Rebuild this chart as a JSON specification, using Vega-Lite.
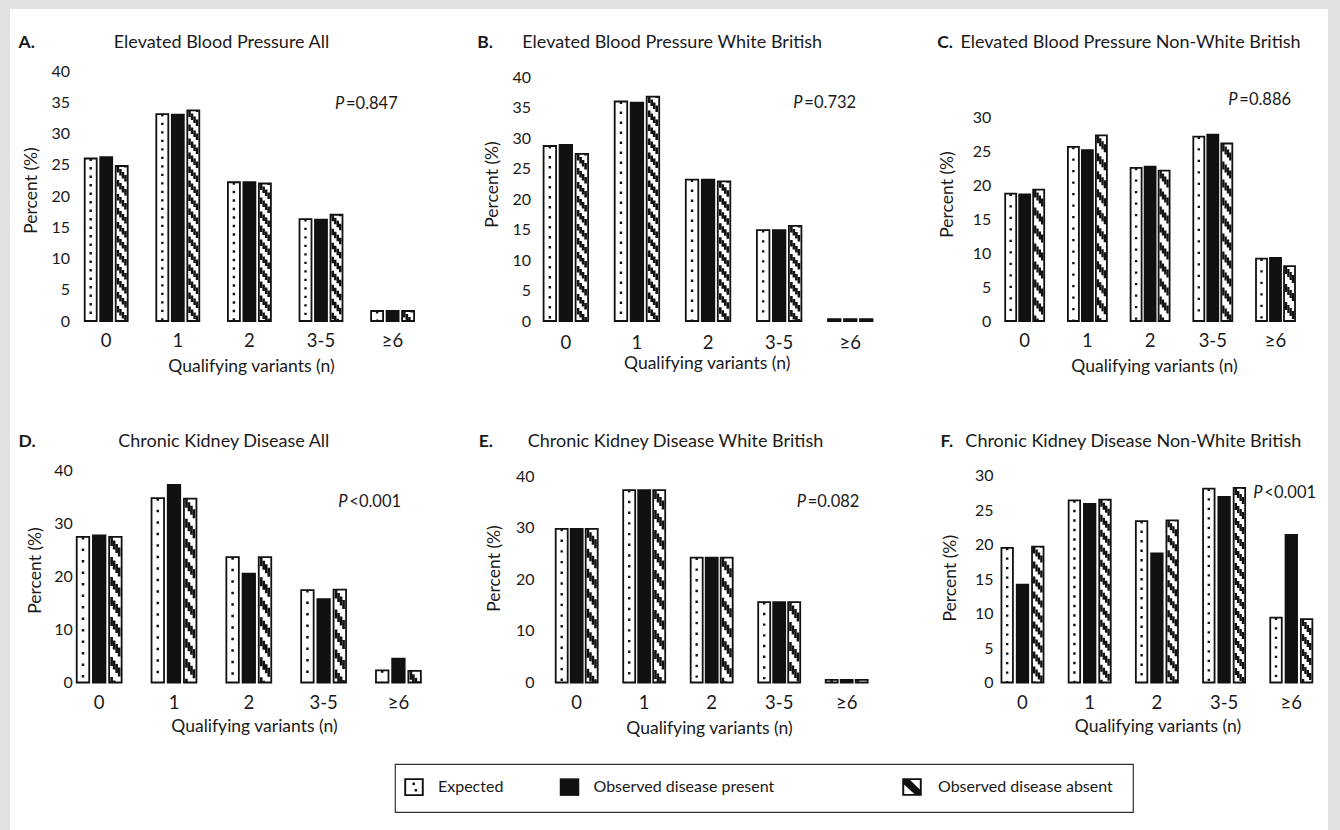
{
  "$schema": "https://vega.github.io/schema/vega-lite/v6.json",
  "padding": 0,
  "background": "#ffffff",
  "spacing": 0,
  "config": {
    "view": {"stroke": null},
    "font": "Lato",
    "axis": {"labelColor": "#1a1a1a", "titleColor": "#1a1a1a", "labelFont": "Lato", "titleFont": "Lato", "titleFontWeight": "normal", "grid": false, "domain": false, "ticks": false, "tickSize": 0},
    "text": {"color": "#1a1a1a", "font": "Lato"}
  },
  "datasets": {
    "bpAll": [
      {"cat": "0", "series": "Expected", "value": 26.0}, {"cat": "0", "series": "Present", "value": 26.2}, {"cat": "0", "series": "Absent", "value": 24.8},
      {"cat": "1", "series": "Expected", "value": 33.1}, {"cat": "1", "series": "Present", "value": 33.0}, {"cat": "1", "series": "Absent", "value": 33.7},
      {"cat": "2", "series": "Expected", "value": 22.2}, {"cat": "2", "series": "Present", "value": 22.2}, {"cat": "2", "series": "Absent", "value": 22.0},
      {"cat": "3-5", "series": "Expected", "value": 16.3}, {"cat": "3-5", "series": "Present", "value": 16.2}, {"cat": "3-5", "series": "Absent", "value": 17.0},
      {"cat": "≥6", "series": "Expected", "value": 1.6}, {"cat": "≥6", "series": "Present", "value": 1.6}, {"cat": "≥6", "series": "Absent", "value": 1.6}
    ],
    "bpWB": [
      {"cat": "0", "series": "Expected", "value": 28.7}, {"cat": "0", "series": "Present", "value": 28.9}, {"cat": "0", "series": "Absent", "value": 27.4},
      {"cat": "1", "series": "Expected", "value": 36.0}, {"cat": "1", "series": "Present", "value": 35.8}, {"cat": "1", "series": "Absent", "value": 36.8},
      {"cat": "2", "series": "Expected", "value": 23.2}, {"cat": "2", "series": "Present", "value": 23.2}, {"cat": "2", "series": "Absent", "value": 22.9},
      {"cat": "3-5", "series": "Expected", "value": 14.9}, {"cat": "3-5", "series": "Present", "value": 14.9}, {"cat": "3-5", "series": "Absent", "value": 15.6},
      {"cat": "≥6", "series": "Expected", "value": 0.3}, {"cat": "≥6", "series": "Present", "value": 0.3}, {"cat": "≥6", "series": "Absent", "value": 0.3}
    ],
    "bpNWB": [
      {"cat": "0", "series": "Expected", "value": 18.8}, {"cat": "0", "series": "Present", "value": 18.7}, {"cat": "0", "series": "Absent", "value": 19.4},
      {"cat": "1", "series": "Expected", "value": 25.7}, {"cat": "1", "series": "Present", "value": 25.2}, {"cat": "1", "series": "Absent", "value": 27.4},
      {"cat": "2", "series": "Expected", "value": 22.6}, {"cat": "2", "series": "Present", "value": 22.8}, {"cat": "2", "series": "Absent", "value": 22.2},
      {"cat": "3-5", "series": "Expected", "value": 27.2}, {"cat": "3-5", "series": "Present", "value": 27.5}, {"cat": "3-5", "series": "Absent", "value": 26.2},
      {"cat": "≥6", "series": "Expected", "value": 9.2}, {"cat": "≥6", "series": "Present", "value": 9.3}, {"cat": "≥6", "series": "Absent", "value": 8.1}
    ],
    "ckdAll": [
      {"cat": "0", "series": "Expected", "value": 27.4}, {"cat": "0", "series": "Present", "value": 27.7}, {"cat": "0", "series": "Absent", "value": 27.4},
      {"cat": "1", "series": "Expected", "value": 34.7}, {"cat": "1", "series": "Present", "value": 37.2}, {"cat": "1", "series": "Absent", "value": 34.6},
      {"cat": "2", "series": "Expected", "value": 23.6}, {"cat": "2", "series": "Present", "value": 20.5}, {"cat": "2", "series": "Absent", "value": 23.6},
      {"cat": "3-5", "series": "Expected", "value": 17.4}, {"cat": "3-5", "series": "Present", "value": 15.7}, {"cat": "3-5", "series": "Absent", "value": 17.5},
      {"cat": "≥6", "series": "Expected", "value": 2.3}, {"cat": "≥6", "series": "Present", "value": 4.5}, {"cat": "≥6", "series": "Absent", "value": 2.2}
    ],
    "ckdWB": [
      {"cat": "0", "series": "Expected", "value": 29.8}, {"cat": "0", "series": "Present", "value": 29.8}, {"cat": "0", "series": "Absent", "value": 29.8},
      {"cat": "1", "series": "Expected", "value": 37.3}, {"cat": "1", "series": "Present", "value": 37.3}, {"cat": "1", "series": "Absent", "value": 37.3},
      {"cat": "2", "series": "Expected", "value": 24.2}, {"cat": "2", "series": "Present", "value": 24.2}, {"cat": "2", "series": "Absent", "value": 24.2},
      {"cat": "3-5", "series": "Expected", "value": 15.6}, {"cat": "3-5", "series": "Present", "value": 15.6}, {"cat": "3-5", "series": "Absent", "value": 15.6},
      {"cat": "≥6", "series": "Expected", "value": 0.5}, {"cat": "≥6", "series": "Present", "value": 0.5}, {"cat": "≥6", "series": "Absent", "value": 0.5}
    ],
    "ckdNWB": [
      {"cat": "0", "series": "Expected", "value": 19.5}, {"cat": "0", "series": "Present", "value": 14.2}, {"cat": "0", "series": "Absent", "value": 19.7},
      {"cat": "1", "series": "Expected", "value": 26.4}, {"cat": "1", "series": "Present", "value": 25.9}, {"cat": "1", "series": "Absent", "value": 26.5},
      {"cat": "2", "series": "Expected", "value": 23.4}, {"cat": "2", "series": "Present", "value": 18.7}, {"cat": "2", "series": "Absent", "value": 23.5},
      {"cat": "3-5", "series": "Expected", "value": 28.1}, {"cat": "3-5", "series": "Present", "value": 26.9}, {"cat": "3-5", "series": "Absent", "value": 28.2},
      {"cat": "≥6", "series": "Expected", "value": 9.4}, {"cat": "≥6", "series": "Present", "value": 21.4}, {"cat": "≥6", "series": "Absent", "value": 9.2}
    ]
  },
  "vconcat": [
    {"width": 1340, "height": 9, "view": {"fill": "#e1e2e4", "stroke": null}, "data": {"values": []}, "mark": "rect", "encoding": {}},
    {
      "spacing": 8,
      "hconcat": [
        {"width": 10, "height": 821, "view": {"fill": "#e1e2e4", "stroke": null}, "data": {"values": []}, "mark": "rect", "encoding": {}},
        {
          "spacing": 23,
          "vconcat": [
            {"width": 1250, "height": 1, "data": {"values": []}, "mark": "rect", "encoding": {}},
            {
              "spacing": 26,
              "vconcat": [
                {
                  "spacing": 57,
                  "vconcat": [
                    {
                      "spacing": 57.6,
                      "hconcat": [
                        {
                          "spacing": 47.4,
                          "hconcat": [
                            {
                              "width": 358.8, "height": 250,
                              "data": {"name": "bpAll"},
                              "resolve": {"axis": {"x": "independent"}},
                              "layer": [
                                {"transform": [{"filter": "datum.series === 'Expected'"}],
                                 "mark": {"type": "bar", "width": 12, "xOffset": -15.5, "fill": "#ffffff", "stroke": "#111111", "strokeWidth": 1.8},
                                 "encoding": {
                                   "x": {"field": "cat", "type": "nominal", "scale": {"type": "band", "domain": ["0", "1", "2", "3-5", "≥6"], "paddingInner": 0.2, "paddingOuter": 0.1056},
                                         "axis": {"orient": "bottom", "labelAngle": 0, "labelFontSize": 18.5, "labelPadding": 19, "labelBaseline": "middle", "title": "Qualifying variants (n)", "titleFontSize": 17.5, "titleX": 181, "titleY": 45, "titleAlign": "center", "titleBaseline": "middle"}},
                                   "y": {"field": "value", "type": "quantitative", "scale": {"domain": [0, 40], "nice": false},
                                         "axis": {"values": [0, 5, 10, 15, 20, 25, 30, 35, 40], "tickCount": 20, "labelFontSize": 16, "labelPadding": 0.5, "title": "Percent (%)", "titleFontSize": 17.5, "titleAngle": 270, "titleX": -38.3, "titleY": 119, "titleAlign": "center", "titleBaseline": "middle"}}
                                 }},
                                {"transform": [{"filter": "datum.series === 'Present'"}],
                                 "mark": {"type": "bar", "width": 12, "fill": "#111111", "stroke": "#111111", "strokeWidth": 1.8},
                                 "encoding": {"x": {"field": "cat", "type": "nominal", "axis": null}, "y": {"field": "value", "type": "quantitative"}}},
                                {"transform": [{"filter": "datum.series === 'Absent'"}],
                                 "mark": {"type": "bar", "width": 12, "xOffset": 15.5, "fill": "#ffffff", "stroke": "#111111", "strokeWidth": 1.8},
                                 "encoding": {"x": {"field": "cat", "type": "nominal", "axis": null}, "y": {"field": "value", "type": "quantitative"}}},
                                {"transform": [{"filter": "datum.series === 'Expected'"}],
                                 "mark": {"type": "rule", "xOffset": -15.5, "stroke": "#111111", "strokeWidth": 2.4, "strokeDash": [2.4, 6.1]},
                                 "encoding": {"x": {"field": "cat", "type": "nominal", "axis": {"orient": "top", "labels": false, "ticks": false, "domain": false, "title": "A.", "titleFontSize": 17.5, "titleFontWeight": "bold", "titleX": -52, "titleY": -28.5, "titleAlign": "left", "titleBaseline": "middle"}},
                                              "y": {"field": "value", "type": "quantitative"}, "y2": {"datum": 0}}},
                                {"transform": [{"filter": "datum.series === 'Absent'"}],
                                 "mark": {"type": "rule", "xOffset": 11.75, "stroke": "#111111", "strokeWidth": 2.5, "strokeDash": [6.5, 7.5], "strokeDashOffset": 0},
                                 "encoding": {"x": {"field": "cat", "type": "nominal", "axis": {"orient": "top", "labels": false, "ticks": false, "domain": false, "title": "Elevated Blood Pressure All", "titleFontSize": 18, "titleX": 151, "titleY": -28.5, "titleAlign": "center", "titleBaseline": "middle"}},
                                              "y": {"field": "value", "type": "quantitative"}, "y2": {"datum": 0}}},
                                {"transform": [{"filter": "datum.series === 'Absent'"}],
                                 "mark": {"type": "rule", "xOffset": 14.25, "stroke": "#111111", "strokeWidth": 2.5, "strokeDash": [6.5, 7.5], "strokeDashOffset": 11},
                                 "encoding": {"x": {"field": "cat", "type": "nominal", "axis": null}, "y": {"field": "value", "type": "quantitative"}, "y2": {"datum": 0}}},
                                {"transform": [{"filter": "datum.series === 'Absent'"}],
                                 "mark": {"type": "rule", "xOffset": 16.75, "stroke": "#111111", "strokeWidth": 2.5, "strokeDash": [6.5, 7.5], "strokeDashOffset": 8},
                                 "encoding": {"x": {"field": "cat", "type": "nominal", "axis": null}, "y": {"field": "value", "type": "quantitative"}, "y2": {"datum": 0}}},
                                {"transform": [{"filter": "datum.series === 'Absent'"}],
                                 "mark": {"type": "rule", "xOffset": 19.25, "stroke": "#111111", "strokeWidth": 2.5, "strokeDash": [6.5, 7.5], "strokeDashOffset": 5},
                                 "encoding": {"x": {"field": "cat", "type": "nominal", "axis": null}, "y": {"field": "value", "type": "quantitative"}, "y2": {"datum": 0}}},
                                {"data": {"values": [{"t": "P"}]},
                                 "mark": {"type": "text", "fontSize": 16.5, "fontStyle": "italic", "align": "left", "baseline": "middle", "dx": -57.6},
                                 "encoding": {"x": {"datum": "≥6", "type": "nominal", "axis": null}, "y": {"datum": 34.8, "type": "quantitative"}, "text": {"field": "t"}}},
                                {"data": {"values": [{"t": "=0.847"}]},
                                 "mark": {"type": "text", "fontSize": 16.5, "align": "left", "baseline": "middle", "dx": -46.6},
                                 "encoding": {"x": {"datum": "≥6", "type": "nominal", "axis": null}, "y": {"datum": 34.8, "type": "quantitative"}, "text": {"field": "t"}}}
                              ]
                            },
                            {
                              "width": 341.3, "height": 250,
                              "data": {"name": "bpWB"},
                              "resolve": {"axis": {"x": "independent"}},
                              "layer": [
                                {"transform": [{"filter": "datum.series === 'Expected'"}],
                                 "mark": {"type": "bar", "width": 12.5, "xOffset": -16, "fill": "#ffffff", "stroke": "#111111", "strokeWidth": 1.8},
                                 "encoding": {
                                   "x": {"field": "cat", "type": "nominal", "scale": {"type": "band", "domain": ["0", "1", "2", "3-5", "≥6"], "paddingInner": 0.2, "paddingOuter": 0},
                                         "axis": {"orient": "bottom", "labelAngle": 0, "labelFontSize": 18.5, "labelPadding": 21, "labelBaseline": "middle", "title": "Qualifying variants (n)", "titleFontSize": 17.5, "titleX": 169.3, "titleY": 42.5, "titleAlign": "center", "titleBaseline": "middle"}},
                                   "y": {"field": "value", "type": "quantitative", "scale": {"domain": [0, 41], "nice": false},
                                         "axis": {"values": [0, 5, 10, 15, 20, 25, 30, 35, 40], "tickCount": 20, "labelFontSize": 16, "labelPadding": 6.9, "title": "Percent (%)", "titleFontSize": 17.5, "titleAngle": 270, "titleX": -45.4, "titleY": 113, "titleAlign": "center", "titleBaseline": "middle"}}
                                 }},
                                {"transform": [{"filter": "datum.series === 'Present'"}],
                                 "mark": {"type": "bar", "width": 12.5, "fill": "#111111", "stroke": "#111111", "strokeWidth": 1.8},
                                 "encoding": {"x": {"field": "cat", "type": "nominal", "axis": null}, "y": {"field": "value", "type": "quantitative"}}},
                                {"transform": [{"filter": "datum.series === 'Absent'"}],
                                 "mark": {"type": "bar", "width": 12.5, "xOffset": 16, "fill": "#ffffff", "stroke": "#111111", "strokeWidth": 1.8},
                                 "encoding": {"x": {"field": "cat", "type": "nominal", "axis": null}, "y": {"field": "value", "type": "quantitative"}}},
                                {"transform": [{"filter": "datum.series === 'Expected'"}],
                                 "mark": {"type": "rule", "xOffset": -16, "stroke": "#111111", "strokeWidth": 2.4, "strokeDash": [2.4, 7.6]},
                                 "encoding": {"x": {"field": "cat", "type": "nominal", "axis": {"orient": "top", "labels": false, "ticks": false, "domain": false, "title": "B.", "titleFontSize": 17.5, "titleFontWeight": "bold", "titleX": -60.7, "titleY": -28.5, "titleAlign": "left", "titleBaseline": "middle"}},
                                              "y": {"field": "value", "type": "quantitative"}, "y2": {"datum": 0}}},
                                {"transform": [{"filter": "datum.series === 'Absent'"}],
                                 "mark": {"type": "rule", "xOffset": 12.25, "stroke": "#111111", "strokeWidth": 2.6, "strokeDash": [6.5, 7.5], "strokeDashOffset": 0},
                                 "encoding": {"x": {"field": "cat", "type": "nominal", "axis": {"orient": "top", "labels": false, "ticks": false, "domain": false, "title": "Elevated Blood Pressure White British", "titleFontSize": 18, "titleX": 134.3, "titleY": -28.5, "titleAlign": "center", "titleBaseline": "middle"}},
                                              "y": {"field": "value", "type": "quantitative"}, "y2": {"datum": 0}}},
                                {"transform": [{"filter": "datum.series === 'Absent'"}],
                                 "mark": {"type": "rule", "xOffset": 14.75, "stroke": "#111111", "strokeWidth": 2.6, "strokeDash": [6.5, 7.5], "strokeDashOffset": 11},
                                 "encoding": {"x": {"field": "cat", "type": "nominal", "axis": null}, "y": {"field": "value", "type": "quantitative"}, "y2": {"datum": 0}}},
                                {"transform": [{"filter": "datum.series === 'Absent'"}],
                                 "mark": {"type": "rule", "xOffset": 17.25, "stroke": "#111111", "strokeWidth": 2.6, "strokeDash": [6.5, 7.5], "strokeDashOffset": 8},
                                 "encoding": {"x": {"field": "cat", "type": "nominal", "axis": null}, "y": {"field": "value", "type": "quantitative"}, "y2": {"datum": 0}}},
                                {"transform": [{"filter": "datum.series === 'Absent'"}],
                                 "mark": {"type": "rule", "xOffset": 19.75, "stroke": "#111111", "strokeWidth": 2.6, "strokeDash": [6.5, 7.5], "strokeDashOffset": 5},
                                 "encoding": {"x": {"field": "cat", "type": "nominal", "axis": null}, "y": {"field": "value", "type": "quantitative"}, "y2": {"datum": 0}}},
                                {"data": {"values": [{"t": "P"}]},
                                 "mark": {"type": "text", "fontSize": 16.5, "fontStyle": "italic", "align": "left", "baseline": "middle", "dx": -56.9},
                                 "encoding": {"x": {"datum": "≥6", "type": "nominal", "axis": null}, "y": {"datum": 35.7, "type": "quantitative"}, "text": {"field": "t"}}},
                                {"data": {"values": [{"t": "=0.732"}]},
                                 "mark": {"type": "text", "fontSize": 16.5, "align": "left", "baseline": "middle", "dx": -45.9},
                                 "encoding": {"x": {"datum": "≥6", "type": "nominal", "axis": null}, "y": {"datum": 35.7, "type": "quantitative"}, "text": {"field": "t"}}}
                              ]
                            }
                          ]
                        },
                        {
                          "width": 301, "height": 250,
                          "data": {"name": "bpNWB"},
                          "resolve": {"axis": {"x": "independent"}},
                          "layer": [
                            {"transform": [{"filter": "datum.series === 'Expected'"}],
                             "mark": {"type": "bar", "width": 11, "xOffset": -14, "fill": "#ffffff", "stroke": "#111111", "strokeWidth": 1.8},
                             "encoding": {
                               "x": {"field": "cat", "type": "nominal", "scale": {"type": "band", "domain": ["0", "1", "2", "3-5", "≥6"], "paddingInner": 0.2, "paddingOuter": 0},
                                     "axis": {"orient": "bottom", "labelAngle": 0, "labelFontSize": 18.5, "labelPadding": 19, "labelBaseline": "middle", "title": "Qualifying variants (n)", "titleFontSize": 17.5, "titleX": 154.4, "titleY": 45, "titleAlign": "center", "titleBaseline": "middle"}},
                               "y": {"field": "value", "type": "quantitative", "scale": {"domain": [0, 36.9], "nice": false},
                                     "axis": {"values": [0, 5, 10, 15, 20, 25, 30], "tickCount": 20, "labelFontSize": 16, "labelPadding": 8.9, "title": "Percent (%)", "titleFontSize": 17.5, "titleAngle": 270, "titleX": -51.8, "titleY": 123, "titleAlign": "center", "titleBaseline": "middle"}}
                             }},
                            {"transform": [{"filter": "datum.series === 'Present'"}],
                             "mark": {"type": "bar", "width": 11, "fill": "#111111", "stroke": "#111111", "strokeWidth": 1.8},
                             "encoding": {"x": {"field": "cat", "type": "nominal", "axis": null}, "y": {"field": "value", "type": "quantitative"}}},
                            {"transform": [{"filter": "datum.series === 'Absent'"}],
                             "mark": {"type": "bar", "width": 11, "xOffset": 14, "fill": "#ffffff", "stroke": "#111111", "strokeWidth": 1.8},
                             "encoding": {"x": {"field": "cat", "type": "nominal", "axis": null}, "y": {"field": "value", "type": "quantitative"}}},
                            {"transform": [{"filter": "datum.series === 'Expected'"}],
                             "mark": {"type": "rule", "xOffset": -14, "stroke": "#111111", "strokeWidth": 2.4, "strokeDash": [2.4, 9.1]},
                             "encoding": {"x": {"field": "cat", "type": "nominal", "axis": {"orient": "top", "labels": false, "ticks": false, "domain": false, "title": "C.", "titleFontSize": 17.5, "titleFontWeight": "bold", "titleX": -62.9, "titleY": -28.5, "titleAlign": "left", "titleBaseline": "middle"}},
                                          "y": {"field": "value", "type": "quantitative"}, "y2": {"datum": 0}}},
                            {"transform": [{"filter": "datum.series === 'Absent'"}],
                             "mark": {"type": "rule", "xOffset": 10.55, "stroke": "#111111", "strokeWidth": 2.3, "strokeDash": [8, 10], "strokeDashOffset": 0},
                             "encoding": {"x": {"field": "cat", "type": "nominal", "axis": {"orient": "top", "labels": false, "ticks": false, "domain": false, "title": "Elevated Blood Pressure Non-White British", "titleFontSize": 18, "titleX": 130.4, "titleY": -28.5, "titleAlign": "center", "titleBaseline": "middle"}},
                                          "y": {"field": "value", "type": "quantitative"}, "y2": {"datum": 0}}},
                            {"transform": [{"filter": "datum.series === 'Absent'"}],
                             "mark": {"type": "rule", "xOffset": 12.85, "stroke": "#111111", "strokeWidth": 2.3, "strokeDash": [8, 10], "strokeDashOffset": 15},
                             "encoding": {"x": {"field": "cat", "type": "nominal", "axis": null}, "y": {"field": "value", "type": "quantitative"}, "y2": {"datum": 0}}},
                            {"transform": [{"filter": "datum.series === 'Absent'"}],
                             "mark": {"type": "rule", "xOffset": 15.15, "stroke": "#111111", "strokeWidth": 2.3, "strokeDash": [8, 10], "strokeDashOffset": 12},
                             "encoding": {"x": {"field": "cat", "type": "nominal", "axis": null}, "y": {"field": "value", "type": "quantitative"}, "y2": {"datum": 0}}},
                            {"transform": [{"filter": "datum.series === 'Absent'"}],
                             "mark": {"type": "rule", "xOffset": 17.45, "stroke": "#111111", "strokeWidth": 2.3, "strokeDash": [8, 10], "strokeDashOffset": 9},
                             "encoding": {"x": {"field": "cat", "type": "nominal", "axis": null}, "y": {"field": "value", "type": "quantitative"}, "y2": {"datum": 0}}},
                            {"data": {"values": [{"t": "P"}]},
                             "mark": {"type": "text", "fontSize": 16.5, "fontStyle": "italic", "align": "left", "baseline": "middle", "dx": -47.2},
                             "encoding": {"x": {"datum": "≥6", "type": "nominal", "axis": null}, "y": {"datum": 32.6, "type": "quantitative"}, "text": {"field": "t"}}},
                            {"data": {"values": [{"t": "=0.886"}]},
                             "mark": {"type": "text", "fontSize": 16.5, "align": "left", "baseline": "middle", "dx": -36.2},
                             "encoding": {"x": {"datum": "≥6", "type": "nominal", "axis": null}, "y": {"datum": 32.6, "type": "quantitative"}, "text": {"field": "t"}}}
                          ]
                        }
                      ]
                    },
                    {
                      "spacing": 65.6,
                      "hconcat": [
                        {
                          "spacing": 49.7,
                          "hconcat": [
                            {
                              "width": 357.6, "height": 212.5,
                              "data": {"name": "ckdAll"},
                              "resolve": {"axis": {"x": "independent"}},
                              "layer": [
                                {"transform": [{"filter": "datum.series === 'Expected'"}],
                                 "mark": {"type": "bar", "width": 12.5, "xOffset": -16.2, "fill": "#ffffff", "stroke": "#111111", "strokeWidth": 1.8},
                                 "encoding": {
                                   "x": {"field": "cat", "type": "nominal", "scale": {"type": "band", "domain": ["0", "1", "2", "3-5", "≥6"], "paddingInner": 0.22, "paddingOuter": 0},
                                         "axis": {"orient": "bottom", "labelAngle": 0, "labelFontSize": 18.5, "labelPadding": 20.2, "labelBaseline": "middle", "title": "Qualifying variants (n)", "titleFontSize": 17.5, "titleX": 184, "titleY": 44.3, "titleAlign": "center", "titleBaseline": "middle"}},
                                   "y": {"field": "value", "type": "quantitative", "scale": {"domain": [0, 40], "nice": false},
                                         "axis": {"values": [0, 10, 20, 30, 40], "tickCount": 20, "labelFontSize": 16, "labelPadding": -2.3, "title": "Percent (%)", "titleFontSize": 17.5, "titleAngle": 270, "titleX": -34.7, "titleY": 100, "titleAlign": "center", "titleBaseline": "middle"}}
                                 }},
                                {"transform": [{"filter": "datum.series === 'Present'"}],
                                 "mark": {"type": "bar", "width": 12.5, "fill": "#111111", "stroke": "#111111", "strokeWidth": 1.8},
                                 "encoding": {"x": {"field": "cat", "type": "nominal", "axis": null}, "y": {"field": "value", "type": "quantitative"}}},
                                {"transform": [{"filter": "datum.series === 'Absent'"}],
                                 "mark": {"type": "bar", "width": 12.5, "xOffset": 16.2, "fill": "#ffffff", "stroke": "#111111", "strokeWidth": 1.8},
                                 "encoding": {"x": {"field": "cat", "type": "nominal", "axis": null}, "y": {"field": "value", "type": "quantitative"}}},
                                {"transform": [{"filter": "datum.series === 'Expected'"}],
                                 "mark": {"type": "rule", "xOffset": -16.2, "stroke": "#111111", "strokeWidth": 2.5, "strokeDash": [2.5, 9]},
                                 "encoding": {"x": {"field": "cat", "type": "nominal", "axis": {"orient": "top", "labels": false, "ticks": false, "domain": false, "title": "D.", "titleFontSize": 17.5, "titleFontWeight": "bold", "titleX": -52, "titleY": -28.2, "titleAlign": "left", "titleBaseline": "middle"}},
                                              "y": {"field": "value", "type": "quantitative"}, "y2": {"datum": 0}}},
                                {"transform": [{"filter": "datum.series === 'Absent'"}],
                                 "mark": {"type": "rule", "xOffset": 12.45, "stroke": "#111111", "strokeWidth": 2.6, "strokeDash": [9, 11], "strokeDashOffset": 0},
                                 "encoding": {"x": {"field": "cat", "type": "nominal", "axis": {"orient": "top", "labels": false, "ticks": false, "domain": false, "title": "Chronic Kidney Disease All", "titleFontSize": 18, "titleX": 153.3, "titleY": -28.2, "titleAlign": "center", "titleBaseline": "middle"}},
                                              "y": {"field": "value", "type": "quantitative"}, "y2": {"datum": 0}}},
                                {"transform": [{"filter": "datum.series === 'Absent'"}],
                                 "mark": {"type": "rule", "xOffset": 14.95, "stroke": "#111111", "strokeWidth": 2.6, "strokeDash": [9, 11], "strokeDashOffset": 16.5},
                                 "encoding": {"x": {"field": "cat", "type": "nominal", "axis": null}, "y": {"field": "value", "type": "quantitative"}, "y2": {"datum": 0}}},
                                {"transform": [{"filter": "datum.series === 'Absent'"}],
                                 "mark": {"type": "rule", "xOffset": 17.45, "stroke": "#111111", "strokeWidth": 2.6, "strokeDash": [9, 11], "strokeDashOffset": 13},
                                 "encoding": {"x": {"field": "cat", "type": "nominal", "axis": null}, "y": {"field": "value", "type": "quantitative"}, "y2": {"datum": 0}}},
                                {"transform": [{"filter": "datum.series === 'Absent'"}],
                                 "mark": {"type": "rule", "xOffset": 19.95, "stroke": "#111111", "strokeWidth": 2.6, "strokeDash": [9, 11], "strokeDashOffset": 9.5},
                                 "encoding": {"x": {"field": "cat", "type": "nominal", "axis": null}, "y": {"field": "value", "type": "quantitative"}, "y2": {"datum": 0}}},
                                {"data": {"values": [{"t": "P"}]},
                                 "mark": {"type": "text", "fontSize": 16.5, "fontStyle": "italic", "align": "left", "baseline": "middle", "dx": -60.1},
                                 "encoding": {"x": {"datum": "≥6", "type": "nominal", "axis": null}, "y": {"datum": 33.9, "type": "quantitative"}, "text": {"field": "t"}}},
                                {"data": {"values": [{"t": "<0.001"}]},
                                 "mark": {"type": "text", "fontSize": 16.5, "align": "left", "baseline": "middle", "dx": -49.1},
                                 "encoding": {"x": {"datum": "≥6", "type": "nominal", "axis": null}, "y": {"datum": 33.9, "type": "quantitative"}, "text": {"field": "t"}}}
                              ]
                            },
                            {
                              "width": 324, "height": 212.5,
                              "data": {"name": "ckdWB"},
                              "resolve": {"axis": {"x": "independent"}},
                              "layer": [
                                {"transform": [{"filter": "datum.series === 'Expected'"}],
                                 "mark": {"type": "bar", "width": 12, "xOffset": -15, "fill": "#ffffff", "stroke": "#111111", "strokeWidth": 1.8},
                                 "encoding": {
                                   "x": {"field": "cat", "type": "nominal", "scale": {"type": "band", "domain": ["0", "1", "2", "3-5", "≥6"], "paddingInner": 0.2, "paddingOuter": 0},
                                         "axis": {"orient": "bottom", "labelAngle": 0, "labelFontSize": 18.5, "labelPadding": 20.2, "labelBaseline": "middle", "title": "Qualifying variants (n)", "titleFontSize": 17.5, "titleX": 159.3, "titleY": 45.5, "titleAlign": "center", "titleBaseline": "middle"}},
                                   "y": {"field": "value", "type": "quantitative", "scale": {"domain": [0, 41.2], "nice": false},
                                         "axis": {"values": [0, 10, 20, 30, 40], "tickCount": 20, "labelFontSize": 16, "labelPadding": 15.7, "title": "Percent (%)", "titleFontSize": 17.5, "titleAngle": 270, "titleX": -55, "titleY": 98, "titleAlign": "center", "titleBaseline": "middle"}}
                                 }},
                                {"transform": [{"filter": "datum.series === 'Present'"}],
                                 "mark": {"type": "bar", "width": 12, "fill": "#111111", "stroke": "#111111", "strokeWidth": 1.8},
                                 "encoding": {"x": {"field": "cat", "type": "nominal", "axis": null}, "y": {"field": "value", "type": "quantitative"}}},
                                {"transform": [{"filter": "datum.series === 'Absent'"}],
                                 "mark": {"type": "bar", "width": 12, "xOffset": 15, "fill": "#ffffff", "stroke": "#111111", "strokeWidth": 1.8},
                                 "encoding": {"x": {"field": "cat", "type": "nominal", "axis": null}, "y": {"field": "value", "type": "quantitative"}}},
                                {"transform": [{"filter": "datum.series === 'Expected'"}],
                                 "mark": {"type": "rule", "xOffset": -15, "stroke": "#111111", "strokeWidth": 2.4, "strokeDash": [2.4, 8.3]},
                                 "encoding": {"x": {"field": "cat", "type": "nominal", "axis": {"orient": "top", "labels": false, "ticks": false, "domain": false, "title": "E.", "titleFontSize": 17.5, "titleFontWeight": "bold", "titleX": -71.4, "titleY": -28.2, "titleAlign": "left", "titleBaseline": "middle"}},
                                              "y": {"field": "value", "type": "quantitative"}, "y2": {"datum": 0}}},
                                {"transform": [{"filter": "datum.series === 'Absent'"}],
                                 "mark": {"type": "rule", "xOffset": 11.25, "stroke": "#111111", "strokeWidth": 2.5, "strokeDash": [9, 11], "strokeDashOffset": 0},
                                 "encoding": {"x": {"field": "cat", "type": "nominal", "axis": {"orient": "top", "labels": false, "ticks": false, "domain": false, "title": "Chronic Kidney Disease White British", "titleFontSize": 18, "titleX": 125.3, "titleY": -28.2, "titleAlign": "center", "titleBaseline": "middle"}},
                                              "y": {"field": "value", "type": "quantitative"}, "y2": {"datum": 0}}},
                                {"transform": [{"filter": "datum.series === 'Absent'"}],
                                 "mark": {"type": "rule", "xOffset": 13.75, "stroke": "#111111", "strokeWidth": 2.5, "strokeDash": [9, 11], "strokeDashOffset": 16.5},
                                 "encoding": {"x": {"field": "cat", "type": "nominal", "axis": null}, "y": {"field": "value", "type": "quantitative"}, "y2": {"datum": 0}}},
                                {"transform": [{"filter": "datum.series === 'Absent'"}],
                                 "mark": {"type": "rule", "xOffset": 16.25, "stroke": "#111111", "strokeWidth": 2.5, "strokeDash": [9, 11], "strokeDashOffset": 13},
                                 "encoding": {"x": {"field": "cat", "type": "nominal", "axis": null}, "y": {"field": "value", "type": "quantitative"}, "y2": {"datum": 0}}},
                                {"transform": [{"filter": "datum.series === 'Absent'"}],
                                 "mark": {"type": "rule", "xOffset": 18.75, "stroke": "#111111", "strokeWidth": 2.5, "strokeDash": [9, 11], "strokeDashOffset": 9.5},
                                 "encoding": {"x": {"field": "cat", "type": "nominal", "axis": null}, "y": {"field": "value", "type": "quantitative"}, "y2": {"datum": 0}}},
                                {"data": {"values": [{"t": "P"}]},
                                 "mark": {"type": "text", "fontSize": 16.5, "fontStyle": "italic", "align": "left", "baseline": "middle", "dx": -50},
                                 "encoding": {"x": {"datum": "≥6", "type": "nominal", "axis": null}, "y": {"datum": 34.9, "type": "quantitative"}, "text": {"field": "t"}}},
                                {"data": {"values": [{"t": "=0.082"}]},
                                 "mark": {"type": "text", "fontSize": 16.5, "align": "left", "baseline": "middle", "dx": -39},
                                 "encoding": {"x": {"datum": "≥6", "type": "nominal", "axis": null}, "y": {"datum": 34.9, "type": "quantitative"}, "text": {"field": "t"}}}
                              ]
                            }
                          ]
                        },
                        {
                          "width": 322.6, "height": 212.5,
                          "data": {"name": "ckdNWB"},
                          "resolve": {"axis": {"x": "independent"}},
                          "layer": [
                            {"transform": [{"filter": "datum.series === 'Expected'"}],
                             "mark": {"type": "bar", "width": 11.5, "xOffset": -15.3, "fill": "#ffffff", "stroke": "#111111", "strokeWidth": 1.8},
                             "encoding": {
                               "x": {"field": "cat", "type": "nominal", "scale": {"type": "band", "domain": ["0", "1", "2", "3-5", "≥6"], "paddingInner": 0.2, "paddingOuter": 0},
                                     "axis": {"orient": "bottom", "labelAngle": 0, "labelFontSize": 18.5, "labelPadding": 20.2, "labelBaseline": "middle", "title": "Qualifying variants (n)", "titleFontSize": 17.5, "titleX": 161.9, "titleY": 44.3, "titleAlign": "center", "titleBaseline": "middle"}},
                               "y": {"field": "value", "type": "quantitative", "scale": {"domain": [0, 30.8], "nice": false},
                                     "axis": {"values": [0, 5, 10, 15, 20, 25, 30], "tickCount": 20, "labelFontSize": 16, "labelPadding": 2.6, "title": "Percent (%)", "titleFontSize": 17.5, "titleAngle": 270, "titleX": -44.8, "titleY": 107.7, "titleAlign": "center", "titleBaseline": "middle"}}
                             }},
                            {"transform": [{"filter": "datum.series === 'Present'"}],
                             "mark": {"type": "bar", "width": 11.5, "fill": "#111111", "stroke": "#111111", "strokeWidth": 1.8},
                             "encoding": {"x": {"field": "cat", "type": "nominal", "axis": null}, "y": {"field": "value", "type": "quantitative"}}},
                            {"transform": [{"filter": "datum.series === 'Absent'"}],
                             "mark": {"type": "bar", "width": 11.5, "xOffset": 15.3, "fill": "#ffffff", "stroke": "#111111", "strokeWidth": 1.8},
                             "encoding": {"x": {"field": "cat", "type": "nominal", "axis": null}, "y": {"field": "value", "type": "quantitative"}}},
                            {"transform": [{"filter": "datum.series === 'Expected'"}],
                             "mark": {"type": "rule", "xOffset": -15.3, "stroke": "#111111", "strokeWidth": 2.4, "strokeDash": [2.4, 7.1]},
                             "encoding": {"x": {"field": "cat", "type": "nominal", "axis": {"orient": "top", "labels": false, "ticks": false, "domain": false, "title": "F.", "titleFontSize": 17.5, "titleFontWeight": "bold", "titleX": -55.6, "titleY": -28.2, "titleAlign": "left", "titleBaseline": "middle"}},
                                          "y": {"field": "value", "type": "quantitative"}, "y2": {"datum": 0}}},
                            {"transform": [{"filter": "datum.series === 'Absent'"}],
                             "mark": {"type": "rule", "xOffset": 11.7, "stroke": "#111111", "strokeWidth": 2.4, "strokeDash": [7, 8], "strokeDashOffset": 0},
                             "encoding": {"x": {"field": "cat", "type": "nominal", "axis": {"orient": "top", "labels": false, "ticks": false, "domain": false, "title": "Chronic Kidney Disease Non-White British", "titleFontSize": 18, "titleX": 137.2, "titleY": -28.2, "titleAlign": "center", "titleBaseline": "middle"}},
                                          "y": {"field": "value", "type": "quantitative"}, "y2": {"datum": 0}}},
                            {"transform": [{"filter": "datum.series === 'Absent'"}],
                             "mark": {"type": "rule", "xOffset": 14.1, "stroke": "#111111", "strokeWidth": 2.4, "strokeDash": [7, 8], "strokeDashOffset": 12},
                             "encoding": {"x": {"field": "cat", "type": "nominal", "axis": null}, "y": {"field": "value", "type": "quantitative"}, "y2": {"datum": 0}}},
                            {"transform": [{"filter": "datum.series === 'Absent'"}],
                             "mark": {"type": "rule", "xOffset": 16.5, "stroke": "#111111", "strokeWidth": 2.4, "strokeDash": [7, 8], "strokeDashOffset": 9},
                             "encoding": {"x": {"field": "cat", "type": "nominal", "axis": null}, "y": {"field": "value", "type": "quantitative"}, "y2": {"datum": 0}}},
                            {"transform": [{"filter": "datum.series === 'Absent'"}],
                             "mark": {"type": "rule", "xOffset": 18.9, "stroke": "#111111", "strokeWidth": 2.4, "strokeDash": [7, 8], "strokeDashOffset": 6},
                             "encoding": {"x": {"field": "cat", "type": "nominal", "axis": null}, "y": {"field": "value", "type": "quantitative"}, "y2": {"datum": 0}}},
                            {"data": {"values": [{"t": "P"}]},
                             "mark": {"type": "text", "fontSize": 16.5, "fontStyle": "italic", "align": "left", "baseline": "middle", "dx": -38},
                             "encoding": {"x": {"datum": "≥6", "type": "nominal", "axis": null}, "y": {"datum": 27.5, "type": "quantitative"}, "text": {"field": "t"}}},
                            {"data": {"values": [{"t": "<0.001"}]},
                             "mark": {"type": "text", "fontSize": 16.5, "align": "left", "baseline": "middle", "dx": -27},
                             "encoding": {"x": {"datum": "≥6", "type": "nominal", "axis": null}, "y": {"datum": 27.5, "type": "quantitative"}, "text": {"field": "t"}}}
                          ]
                        }
                      ]
                    }
                  ]
                },
                {
                  "spacing": 0,
                  "hconcat": [
                    {"width": 324, "height": 1, "data": {"values": []}, "mark": "rect", "encoding": {}},
                    {
                      "width": 738, "height": 48,
                      "view": {"stroke": "#333333", "strokeWidth": 1.2, "fill": null},
                      "layer": [
                        {
                          "data": {"values": [{"series": "Expected"}, {"series": "Observed disease present"}]},
                          "mark": {"type": "point", "filled": true, "color": "#111111", "opacity": 0},
                          "encoding": {
                            "shape": {
                              "field": "series", "type": "nominal",
                              "scale": {
                                "domain": ["Expected", "Observed disease present"],
                                "range": [
                                  "M-1,-0.9H1V0.9H-1Z M-0.8,-0.72V0.72H0.8V-0.72Z M-0.16,-0.48H0.1V-0.22H-0.16Z M0.06,0.2H0.32V0.46H0.06Z",
                                  "M-1,-0.9H1V0.9H-1Z"
                                ]
                              },
                              "legend": {"title": null, "orient": "none", "legendX": 404, "legendY": 777, "direction": "horizontal", "symbolSize": 380, "symbolOpacity": 1, "symbolStrokeWidth": 0, "symbolFillColor": "#111111", "labelFontSize": 16, "labelOffset": 14, "columnPadding": 55.5, "labelColor": "#1a1a1a", "labelFont": "Lato", "labelLimit": 400}
                            }
                          }
                        },
                        {
                          "data": {"values": [{"series": "Observed disease absent"}]},
                          "mark": {"type": "point", "filled": true, "opacity": 0, "shape": "M-1,-0.9H1V0.9H-1Z M-0.8,-0.72V0.72H0.8V-0.72Z M-0.85,-0.78H-0.25L0.85,0.3V0.78H0.3L-0.85,-0.28Z"},
                          "encoding": {
                            "fill": {
                              "field": "series", "type": "nominal",
                              "scale": {"domain": ["Observed disease absent"], "range": ["#111111"]},
                              "legend": {"title": null, "orient": "none", "legendX": 902, "legendY": 777, "direction": "horizontal", "symbolType": "M-1,-0.9H1V0.9H-1Z M-0.8,-0.72V0.72H0.8V-0.72Z M-0.85,-0.78H-0.25L0.85,0.3V0.78H0.3L-0.85,-0.28Z", "symbolSize": 380, "symbolOpacity": 1, "symbolStrokeWidth": 0, "symbolFillColor": "#111111", "labelFontSize": 16, "labelOffset": 16, "labelColor": "#1a1a1a", "labelFont": "Lato", "labelLimit": 400}
                            }
                          }
                        }
                      ]
                    }
                  ]
                }
              ]
            }
          ]
        },
        {"width": 12, "height": 821, "view": {"fill": "#e1e2e4", "stroke": null}, "data": {"values": []}, "mark": "rect", "encoding": {}}
      ]
    }
  ]
}
